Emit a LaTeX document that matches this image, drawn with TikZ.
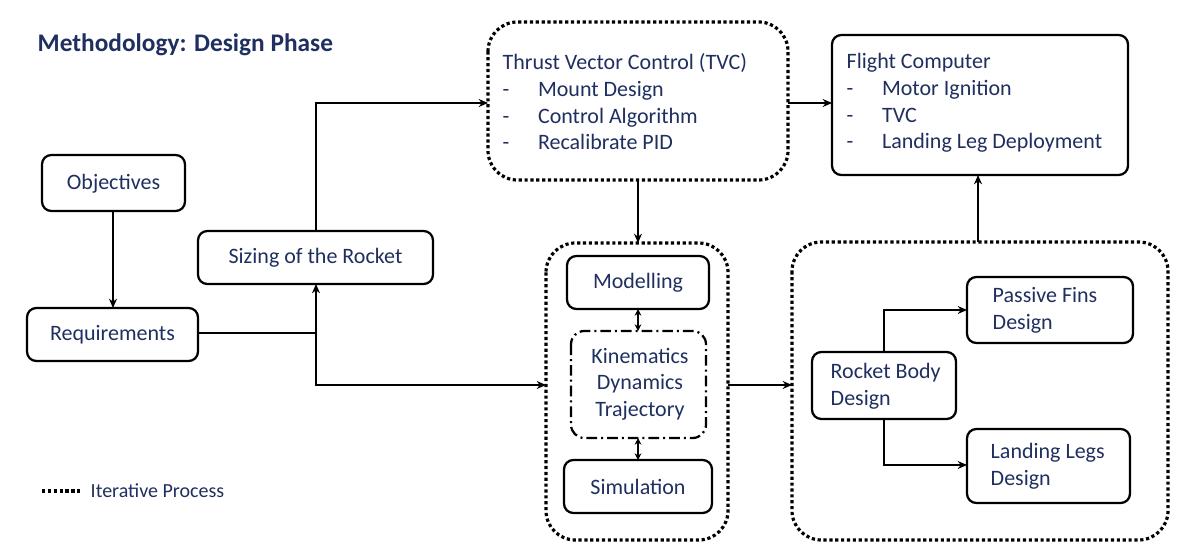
\documentclass[tikz,border=0pt]{standalone}
\usepackage{fontspec}
\setmainfont{Carlito}
\usetikzlibrary{arrows.meta}
\definecolor{navy}{HTML}{1F2F5F}
\begin{document}
\begin{tikzpicture}[x=0.75pt,y=-0.75pt,
  box/.style={draw=black,line width=1.7pt,rounded corners=7pt},
  txt/.style={text=navy,font=\fontsize{16.5}{20}\selectfont},
  grp/.style={draw=black,line width=2.4pt,dotted,rounded corners=22pt},
  dd/.style={draw=black,line width=1.7pt,dash pattern=on 8pt off 3pt on 1.5pt off 3pt,rounded corners=10pt},
  con/.style={draw=black,line width=0.9pt},
  arr/.style={con,-{Stealth[length=7pt,width=6pt]}},
  darr/.style={con,{Stealth[length=5pt,width=5pt]}-{Stealth[length=5pt,width=5pt]}}]
\useasboundingbox (0,0) rectangle (1194,559);
\node[anchor=west,text=navy,font=\fontsize{19}{22}\selectfont\bfseries] (title) at (33,45) {Methodology: Design Phase};
% boxes
\draw[box] (42,155) rectangle (185,211); \node[txt] (obj) at (113.5,184) {Objectives};
\coordinate (objb) at (113,211);
\draw[box] (27,308) rectangle (198,361); \node[txt] (req) at (112.5,335) {Requirements};
\coordinate (reqt) at (113,308); \coordinate (reqr) at (198,333);
\draw[box] (198,231) rectangle (433,284); \node[txt] (siz) at (315.5,258) {Sizing of the Rocket};
\coordinate (sizt) at (316,231); \coordinate (sizb) at (316,284);
\draw[grp] (488,22) rectangle (788,180);
\node[anchor=west,txt,align=left] (tvc) at (498,102) {Thrust Vector Control (TVC)\\-\hspace{1.3em}Mount Design\\-\hspace{1.3em}Control Algorithm\\-\hspace{1.3em}Recalibrate PID};
\coordinate (tvcl) at (488,103); \coordinate (tvcr) at (788,103); \coordinate (tvcb) at (638,180);
\draw[box] (832,35) rectangle (1128,175);
\node[anchor=west,txt,align=left] (fc) at (842,103) {Flight Computer\\-\hspace{1.3em}Motor Ignition\\-\hspace{1.3em}TVC\\-\hspace{1.3em}Landing Leg Deployment};
\coordinate (fcl) at (832,103); \coordinate (fcb) at (978,175);
\draw[grp] (546,243) rectangle (728,540);
\coordinate (lgt) at (638,243); \coordinate (lgl) at (546,385); \coordinate (lgr) at (728,385);
\draw[box] (567,256) rectangle (709,309); \node[txt] (mod) at (638,283) {Modelling};
\draw[dd] (571,331) rectangle (706,438); \node[txt,align=center] (kin) at (640,384) {Kinematics\\Dynamics\\Trajectory};
\draw[box] (564,460) rectangle (712,513); \node[txt] (sim) at (638,487) {Simulation};
\draw[grp] (792,242) rectangle (1168,540);
\coordinate (rgl) at (792,385); \coordinate (rgt) at (978,242);
\draw[box] (967,277) rectangle (1133,343); \node[anchor=west,txt,align=left] (pf) at (988,310) {Passive Fins\\Design};
\draw[box] (812,352) rectangle (956,419); \node[anchor=west,txt,align=left] (rb) at (826,386) {Rocket Body\\Design};
\draw[box] (967,429) rectangle (1130,503); \node[anchor=west,txt,align=left] (ll) at (986,466) {Landing Legs\\Design};
% legend
\coordinate (lg1) at (42,491); \coordinate (lg2) at (82,491);
\draw[line width=2.4pt,dotted] (lg1) -- (lg2);
\node[anchor=west,text=navy,font=\fontsize{15}{18}\selectfont] (leg) at (86,491) {Iterative Process};
% connectors
\coordinate (j) at (316,333);
\draw[arr] (objb) -- (reqt);
\draw[con] (reqr) -- (j);
\draw[arr] (j) -- (sizb);
\draw[arr] (j) |- (lgl);
\draw[arr] (sizt) |- (tvcl);
\draw[arr] (tvcb) -- (lgt);
\draw[arr] (tvcr) -- (fcl);
\draw[arr] (lgr) -- (rgl);
\draw[arr] (rgt) -- (fcb);
\draw[arr] (884,352) |- (967,310);
\draw[arr] (884,419) |- (967,465);
\draw[darr] (638,309) -- (638,331);
\draw[darr] (638,438) -- (638,460);
\end{tikzpicture}
\end{document}
